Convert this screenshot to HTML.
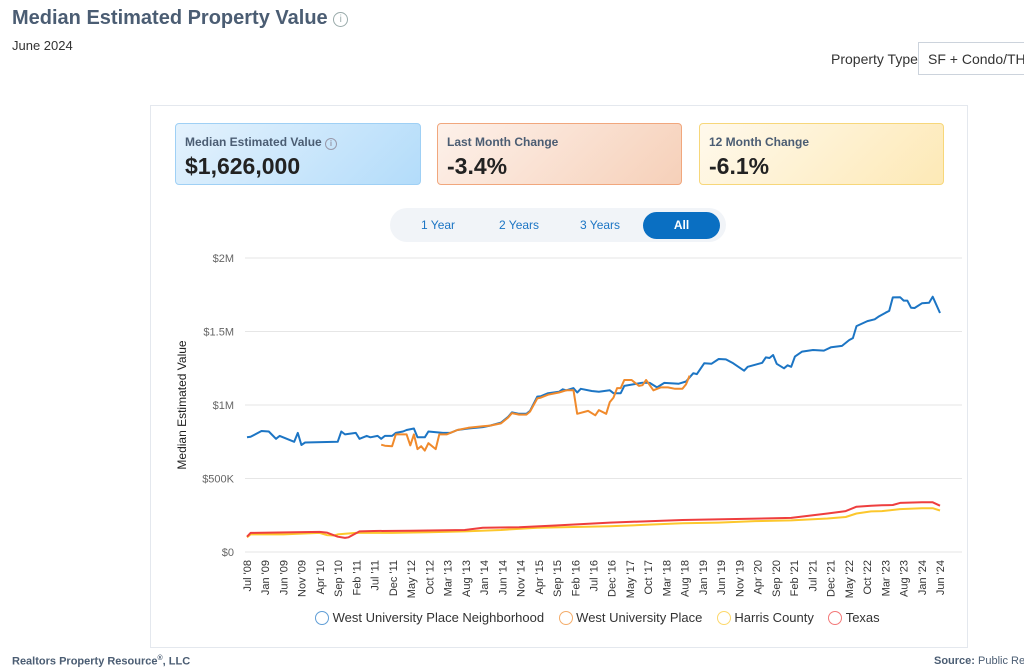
<!DOCTYPE html>
<html><head><meta charset="utf-8">
<style>
body{margin:0;width:1024px;height:671px;overflow:hidden;background:#fff;font-family:"Liberation Sans",sans-serif;position:relative}
.abs{position:absolute}
.kpi{position:absolute;top:123px;height:62px;border-radius:4px;box-sizing:border-box}
.kpi .t{position:absolute;left:9px;top:11px;font-size:12px;font-weight:bold;color:#4b5d73}
.kpi .v{position:absolute;left:9px;top:29px;font-size:23px;font-weight:bold;color:#222}
</style></head><body>
<div class="abs" style="left:12px;top:7px;font-size:20px;font-weight:bold;color:#4b5d73">Median Estimated Property Value <span style="display:inline-block;width:13px;height:13px;border:1px solid #9aa;border-radius:50%;font-size:10px;color:#9aa;text-align:center;line-height:13px;font-weight:normal;vertical-align:2px">i</span></div>
<div class="abs" style="left:12px;top:38px;font-size:13px;color:#333">June 2024</div>
<div class="abs" style="left:831px;top:51px;font-size:14px;color:#333">Property Type</div>
<div class="abs" style="left:918px;top:42px;width:120px;height:33px;border:1px solid #ccd3dc;box-sizing:border-box;font-size:14px;color:#333;padding:8px 0 0 9px;white-space:nowrap">SF + Condo/TH/</div>
<div class="abs" style="left:150px;top:105px;width:818px;height:543px;border:1px solid #e4e8ee;box-sizing:border-box"></div>
<div class="kpi" style="left:175px;width:246px;border:1px solid #9fd0f5;background:linear-gradient(135deg,#e4f2fd,#b3dcfa)"><div class="t">Median Estimated Value <span style="display:inline-block;width:10px;height:10px;border:1px solid #99a;border-radius:50%;font-size:8px;text-align:center;line-height:10px;color:#99a">i</span></div><div class="v">$1,626,000</div></div>
<div class="kpi" style="left:437px;width:245px;border:1px solid #f1a77d;background:linear-gradient(135deg,#fdf1ea,#f6d0b9)"><div class="t">Last Month Change</div><div class="v">-3.4%</div></div>
<div class="kpi" style="left:699px;width:245px;border:1px solid #f7d77a;background:linear-gradient(135deg,#fff9ec,#fde9b6)"><div class="t">12 Month Change</div><div class="v">-6.1%</div></div>
<div class="abs" style="left:390px;top:208px;width:336px;height:34px;border-radius:17px;background:#f1f4f8"></div>
<div class="abs" style="left:421px;top:218px;font-size:12px;color:#1c75c4">1 Year</div>
<div class="abs" style="left:499px;top:218px;font-size:12px;color:#1c75c4">2 Years</div>
<div class="abs" style="left:580px;top:218px;font-size:12px;color:#1c75c4">3 Years</div>
<div class="abs" style="left:643px;top:212px;width:77px;height:27px;border-radius:14px;background:#0a6fc2;color:#fff;font-size:12px;font-weight:bold;text-align:center;line-height:27px">All</div>
<svg id="chart" class="abs" style="left:0;top:0" width="1024" height="671"></svg>
<div class="abs" style="left:315px;top:610px;font-size:13px;color:#333;white-space:nowrap">
<span><span style="display:inline-block;width:12px;height:12px;border:1.5px solid #1c75c4;border-radius:50%;vertical-align:-3px;opacity:.7"></span> West University Place Neighborhood</span>&nbsp;&nbsp;&nbsp;
<span><span style="display:inline-block;width:12px;height:12px;border:1.5px solid #f08a2c;border-radius:50%;vertical-align:-3px;opacity:.7"></span> West University Place</span>&nbsp;&nbsp;&nbsp;
<span><span style="display:inline-block;width:12px;height:12px;border:1.5px solid #fcc72c;border-radius:50%;vertical-align:-3px;opacity:.7"></span> Harris County</span>&nbsp;&nbsp;&nbsp;
<span><span style="display:inline-block;width:12px;height:12px;border:1.5px solid #ee3e3e;border-radius:50%;vertical-align:-3px;opacity:.7"></span> Texas</span></div>
<div class="abs" style="left:12px;top:655px;font-size:11px;font-weight:bold;color:#4b5d73">Realtors Property Resource<sup style="font-size:7px">®</sup>, LLC</div>
<div class="abs" style="left:934px;top:655px;font-size:11px;color:#4b5d73;white-space:nowrap"><b>Source:</b> Public Records</div>
<script>
const tickLabels=["Jul '08","Jan '09","Jun '09","Nov '09","Apr '10","Sep '10","Feb '11","Jul '11","Dec '11","May '12","Oct '12","Mar '13","Aug '13","Jan '14","Jun '14","Nov '14","Apr '15","Sep '15","Feb '16","Jul '16","Dec '16","May '17","Oct '17","Mar '18","Aug '18","Jan '19","Jun '19","Nov '19","Apr '20","Sep '20","Feb '21","Jul '21","Dec '21","May '22","Oct '22","Mar '23","Aug '23","Jan '24","Jun '24"];
const yTicks=[0,500000,1000000,1500000,2000000];
const yTickLabels=["$0","$500K","$1M","$1.5M","$2M"];
const neighborhoodMonths=[0,1,4,6,8,9,13,14,15,16,25,26,27,30,31,33,34,36,37,38,40,41,43,44,46,47,49,50,54,56,58,61,65,67,70,72,73,75,77,78,80,81,83,86,87,88,90,91,92,95,97,100,101,103,104,109,111,113,115,119,121,123,124,126,128,130,132,134,137,138,142,143,144,145,146,148,149,150,151,153,156,159,161,164,166,167,168,171,173,174,176,177,178,180,181,182,183,184,186,188,189,191];
const neighborhoodValues=[780,784,823,820,770,790,750,810,728,745,750,820,800,810,770,790,780,790,770,790,790,810,820,830,840,780,780,820,810,810,830,840,850,860,880,920,950,940,940,960,1057,1060,1080,1090,1107,1100,1115,1085,1110,1095,1090,1100,1080,1080,1130,1152,1150,1120,1150,1145,1160,1216,1210,1284,1280,1313,1310,1284,1233,1260,1287,1324,1320,1340,1280,1250,1270,1260,1329,1363,1374,1370,1393,1402,1442,1455,1537,1571,1583,1600,1628,1640,1732,1733,1710,1710,1662,1660,1692,1695,1737,1626];
const wupMonths=[37,38,40,41,44,45,46,47,48,49,50,52,53,55,58,61,65,67,70,72,73,75,77,78,80,81,83,86,88,90,91,94,96,97,99,100,101,102,103,104,106,108,109,110,112,114,116,118,120,121,122];
const wupValues=[730,723,720,800,800,725,800,700,720,690,740,700,800,800,830,845,855,860,875,915,945,935,935,955,1045,1050,1070,1085,1100,1100,940,960,930,965,940,1020,1050,1115,1115,1170,1170,1130,1135,1170,1100,1120,1120,1110,1110,1140,1200];
const harrisMonths=[0,1,10,20,22,24,25,30,40,50,60,70,80,90,100,110,120,130,140,150,160,165,168,172,175,180,186,189,191];
const harrisValues=[100,120,120,130,115,112,120,130,130,135,140,150,165,170,175,185,195,200,210,215,228,238,262,276,278,292,298,298,282];
const texasMonths=[0,1,20,22,25,27,28,31,35,45,60,65,75,85,100,120,150,160,165,168,172,175,178,180,186,189,191];
const texasValues=[104,130,137,132,104,96,100,140,143,145,150,165,168,180,200,218,232,262,278,308,315,318,320,334,338,338,315];
const svg=document.getElementById('chart');const NS='http://www.w3.org/2000/svg';
const x0=247,x1=940,y0=552,y1=258,N=191,yMax=2000000;
const xs=m=>x0+(x1-x0)*m/N;const ys=v=>y0-(y0-y1)*v/yMax;
function mk(t,a){const e=document.createElementNS(NS,t);for(const k in a)e.setAttribute(k,a[k]);svg.appendChild(e);return e;}
yTicks.forEach((v,i)=>{const g=mk('line',{x1:245,x2:962,y1:ys(v),y2:ys(v),stroke:'#e6e6e6','stroke-width':1});


const t=mk('text',{x:234,y:ys(v)+4,'text-anchor':'end','font-size':11,fill:'#666','font-family':'Liberation Sans, sans-serif'});t.textContent=yTickLabels[i];

});
tickLabels.forEach((l,i)=>{const x=x0+(x1-x0)*i/(tickLabels.length-1);const t=mk('text',{x:0,y:0,transform:`translate(${x+4},${y0+8}) rotate(-90)`,'text-anchor':'end','font-size':11,fill:'#333','font-family':'Liberation Sans, sans-serif'});t.textContent=l;

});
const yt=mk('text',{x:0,y:0,transform:'translate(186,405) rotate(-90)','text-anchor':'middle','font-size':12,fill:'#222','font-family':'Liberation Sans, sans-serif'});yt.textContent='Median Estimated Value';


function series(ms,vs,c,name){const d=ms.map((m,i)=>(i?'L':'M')+xs(m).toFixed(1)+','+ys(vs[i]*1000).toFixed(1)).join(' ');const p=mk('path',{d,fill:'none',stroke:c,'stroke-width':2,'stroke-linejoin':'round'});

}
series(harrisMonths,harrisValues,'#fcc72c','harris-county-line');
series(texasMonths,texasValues,'#ee3e3e','texas-line');
series(neighborhoodMonths,neighborhoodValues,'#1c75c4','neighborhood-line');
series(wupMonths,wupValues,'#f08a2c','west-university-place-line');
</script>
</body></html>
